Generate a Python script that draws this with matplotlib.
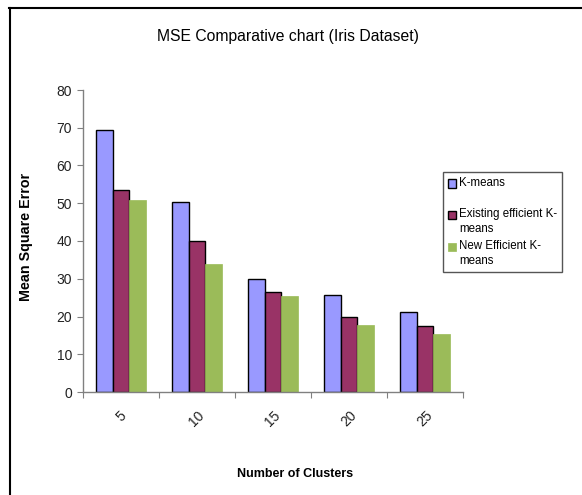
import numpy as np
import matplotlib
matplotlib.use("Agg")
import matplotlib.pyplot as plt
from matplotlib.legend_handler import HandlerPatch
from matplotlib.patches import Rectangle
from matplotlib.lines import Line2D

plt.rcParams['font.family'] = ['Liberation Sans', 'DejaVu Sans']

# data
clusters = ['5', '10', '15', '20', '25']
kmeans = [69.5, 50.4, 29.9, 25.8, 21.2]
existing = [53.4, 40.0, 26.4, 20.0, 17.6]
new_eff = [50.8, 33.8, 25.4, 17.7, 15.4]
series_names = ['K-means\n', 'Existing efficient K-\nmeans', 'New Efficient K-\nmeans']

W, H = 582, 495
fig = plt.figure(figsize=(W / 100, H / 100), dpi=100)
ax = fig.add_axes([83 / W, 1 - 392 / H, 380 / W, 302 / H])

x = np.arange(len(clusters))
bw = 0.222
b1 = ax.bar(x - bw, kmeans, bw, color='#9999FF', edgecolor='black', linewidth=1.0)
b2 = ax.bar(x, existing, bw, color='#993366', edgecolor='black', linewidth=1.0)
b3 = ax.bar(x + bw, new_eff, bw, color='#9BBB59', edgecolor='#9BBB59', linewidth=0.5)

ax.set_xlim(-0.5, len(clusters) - 0.5)
ax.set_ylim(0, 80)
ax.set_yticks(np.arange(0, 81, 10))

# category boundary ticks, labels in the middle (excel style)
ax.set_xticks(np.arange(-0.5, len(clusters), 1.0))
ax.set_xticklabels([])
ax.set_xticks(x, minor=True)
ax.set_xticklabels(clusters, minor=True, rotation=45, ha='center', va='top')
ax.tick_params(axis='x', which='minor', length=0, pad=12, labelsize=10, labelcolor='#222222')
ax.tick_params(axis='x', which='major', length=4, color='#808080', direction='out')
ax.tick_params(axis='y', length=4, color='#808080', pad=4, labelsize=10, labelcolor='#222222')

for s in ['top', 'right']:
    ax.spines[s].set_visible(False)
for s in ['left', 'bottom']:
    ax.spines[s].set_color('#808080')
    ax.spines[s].set_linewidth(1.0)

ax.set_ylabel('Mean Square Error', fontsize=10.3, fontweight='bold')
ax.yaxis.set_label_coords((33 - 83) / 380, (392 - 237) / 302)
ax.set_xlabel('Number of Clusters', fontsize=9, fontweight='bold')
ax.xaxis.set_label_coords((295 - 83) / 380, (392 - 468) / 302)

fig.text(287.5 / W, 1 - 37 / H, 'MSE Comparative chart (Iris Dataset)',
         ha='center', va='center', fontsize=11.3)


# legend squares sit next to the first line of each label
def top_square(shift):
    def make(legend, orig_handle, xdescent, ydescent, width, height, fontsize):
        return Rectangle((-xdescent, -ydescent + shift * fontsize), width, height)
    return make


handles = [b1.patches[0], b2.patches[0], b3.patches[0]]
leg_fs = 8.3
leg = ax.legend(handles, series_names,
                loc='upper left', bbox_to_anchor=(443 / W, 1 - 172 / H),
                bbox_transform=fig.transFigure, borderaxespad=0,
                fontsize=leg_fs, frameon=True, fancybox=False,
                edgecolor='#555555', framealpha=1,
                handlelength=0.75, handleheight=0.75, handletextpad=0.25,
                labelspacing=0.45, borderpad=0.4,
                handler_map={h: HandlerPatch(patch_func=top_square(0.62)) for h in handles})
leg.get_frame().set_linewidth(1.0)
for t in leg.get_texts():
    t.set_linespacing(1.3)

# outer chart frame (only left and top edges visible)
fig.add_artist(Line2D([9.5 / W, 9.5 / W], [0, 1 - 8 / H], transform=fig.transFigure,
                      color='black', linewidth=1.5))
fig.add_artist(Line2D([9 / W, 1], [1 - 8 / H, 1 - 8 / H], transform=fig.transFigure,
                      color='black', linewidth=1.5))

fig.savefig('out.png', dpi=100)
